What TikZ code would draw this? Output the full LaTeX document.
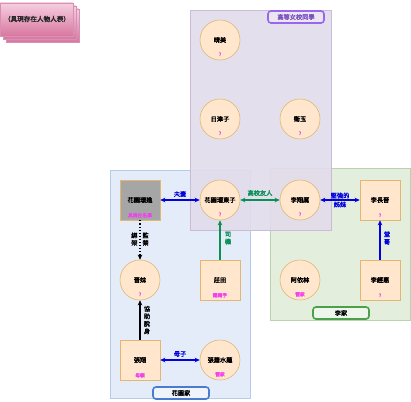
\documentclass[tikz,border=0pt]{standalone}
\usepackage{fontspec}
\newfontfamily\cjk[FakeBold=2.2]{Noto Sans CJK TC}
\usetikzlibrary{arrows.meta}
\definecolor{peach}{HTML}{FFE6CC}
\definecolor{orng}{HTML}{E2B870}
\definecolor{grayfill}{HTML}{A6A6A6}
\definecolor{mag}{HTML}{F040F0}
\definecolor{bl}{HTML}{0000E0}
\definecolor{gr}{HTML}{0A9055}
\definecolor{purfill}{HTML}{E2DCEB}
\definecolor{purline}{HTML}{C9BCD9}
\definecolor{blufill}{HTML}{E4ECF9}
\definecolor{bluline}{HTML}{B5CBEA}
\definecolor{grnfill}{HTML}{E3EEDD}
\definecolor{grnline}{HTML}{B9D3AE}
\definecolor{purlab}{HTML}{9966EE}
\definecolor{blulab}{HTML}{4A7BD0}
\definecolor{grnlab}{HTML}{4CA04C}
\definecolor{pinktop}{HTML}{F6CFE1}
\definecolor{pinkbot}{HTML}{D8779F}
\definecolor{pinkline}{HTML}{D690B4}
\tikzset{
  every node/.style={font=\cjk\fontsize{6.2}{7}\selectfont},
  circ/.style={circle, draw=orng, fill=peach, minimum size=40pt, inner sep=0pt, line width=0.6pt},
  sqbox/.style={rectangle, draw=orng, fill=peach, minimum size=40pt, inner sep=0pt, line width=0.6pt},
  graybox/.style={rectangle, draw=orng, fill=grayfill, minimum size=40pt, inner sep=0pt, line width=0.6pt},
  sublab/.style={text=mag, font=\cjk\fontsize{4.8}{5}\selectfont, inner sep=0pt},
  grplab/.style={rectangle, rounded corners=3pt, line width=1.6pt, minimum width=56pt, minimum height=12pt, inner sep=0pt},
  barrow/.style={draw=bl, line width=1.1pt, {Stealth[length=5pt,width=4.5pt]}-{Stealth[length=5pt,width=4.5pt]}},
  garrow/.style={draw=gr, line width=1.1pt, {Stealth[length=5pt,width=4.5pt]}-{Stealth[length=5pt,width=4.5pt]}},
  onearrow/.style={line width=1.1pt, -{Stealth[length=5pt,width=4.5pt]}},
  elab/.style={inner sep=0pt, font=\cjk\fontsize{6.2}{7.5}\selectfont, align=center},
}
\begin{document}
\begin{tikzpicture}[x=1pt,y=-1pt]
\useasboundingbox (0,0) rectangle (411,401);
% title stack
\foreach \d in {6,3}{
  \draw[pinkline, top color=pinktop, bottom color=pinkbot] (\d,3+\d) rectangle (73+\d,36+\d);
}
\draw[pinkline, top color=pinktop, bottom color=pinkbot] (0,3) rectangle (73,36);
\node[text=black!85, font=\cjk\fontsize{6.6}{7}\selectfont] (title) at (37,19) {（具現存在人物人表）};
% groups
\draw[bluline, fill=blufill] (110,170) rectangle (250,398);
\draw[grnline, fill=grnfill] (270,168) rectangle (410,320);
\draw[purline, fill=purfill, fill opacity=0.92] (190,10) rectangle (331,230);
\node[grplab, draw=purlab, fill=purfill!70!white, text=purlab!80!black] (lpur) at (296,17) {高等女校同學};
\node[grplab, draw=blulab, fill=blufill!60!white, text=black] (lblu) at (181,393) {花園家};
\node[grplab, draw=grnlab, fill=grnfill!60!white, text=black] (lgrn) at (341,313) {李家};
% nodes
\node[circ] (qm) at (220,40) {晴美};
\node[circ] (yj) at (220,119) {日津子};
\node[circ] (wy) at (300,119) {衛玉};
\node[graybox] (hx) at (140,200) {花園璟進};
\node[circ] (hy) at (220,200) {花園瑠東子};
\node[circ] (lx) at (300,200) {李翔厲};
\node[sqbox] (lc) at (380,200) {李長晉};
\node[circ] (jm) at (140,280) {晋妹};
\node[sqbox] (zt) at (220,280) {莊田};
\node[circ] (ay) at (300,280) {阿依林};
\node[sqbox] (lj) at (380,280) {李經惠};
\node[sqbox] (zx) at (140,360) {張翔};
\node[circ] (zs) at (220,360) {張蕭水蓮};
% sub labels
\node[sublab] at ([yshift=6pt]qm.south) {?};
\node[sublab] at ([yshift=6pt]yj.south) {?};
\node[sublab] at ([yshift=6pt]wy.south) {?};
\node[sublab] at ([yshift=5pt]hx.south) {具現在名單};
\node[sublab] at ([yshift=6pt]hy.south) {?};
\node[sublab] at ([yshift=6pt]lx.south) {?};
\node[sublab] at ([yshift=5pt]lc.south) {?};
\node[sublab] at ([yshift=6pt]jm.south) {?};
\node[sublab] at ([yshift=5pt]zt.south) {運轉手};
\node[sublab] at ([yshift=6pt]ay.south) {管家};
\node[sublab] at ([yshift=5pt]lj.south) {?};
\node[sublab] at ([yshift=5pt]zx.south) {母親};
\node[sublab] at ([yshift=6pt]zs.south) {管家};
% connectors
\draw[barrow] (hx) -- (hy) node[elab, text=bl, midway, yshift=6pt] {夫妻};
\draw[garrow] (hy) -- (lx) node[elab, text=gr, midway, yshift=7pt] {高校友人};
\draw[barrow] (lx) -- (lc) node[elab, text=bl, midway, yshift=0pt] {堅強的\\[1.5pt]姊妹};
\draw[onearrow, draw=bl] (lj) -- (lc) node[elab, text=bl, pos=0.55, xshift=7pt] {堂\\哥};
\draw[onearrow, draw=gr] (zt) -- (hy) node[elab, text=gr, pos=0.55, xshift=8pt] {司\\機};
\draw[onearrow, draw=black, dotted] (hx) -- (jm) node[elab, text=black, midway] {\begin{tabular}{@{}c@{\hspace{5pt}}c@{}}綁&監\\架&禁\end{tabular}};
\draw[onearrow, draw=black] (zx) -- (jm) node[elab, text=black, midway, xshift=7pt] {協\\助\\脫\\身};
\draw[barrow] (zx) -- (zs) node[elab, text=bl, midway, yshift=6pt] {母子};
\end{tikzpicture}
\end{document}
